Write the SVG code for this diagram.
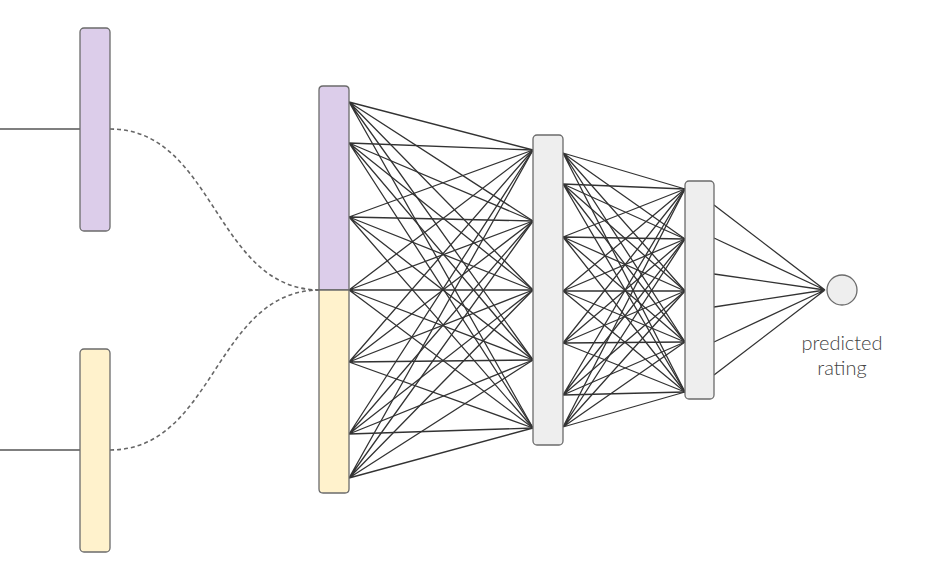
<svg xmlns="http://www.w3.org/2000/svg" width="934" height="579" viewBox="0 0 934 579">
<style>
.bar{stroke:#6b6b6b;stroke-width:1.3}
.purple{fill:#dccdea}
.yellow{fill:#fff2cc}
.gray{fill:#eeeeee}
.edge{stroke:#333;stroke-width:1.3;fill:none}
.solid{stroke:#555;stroke-width:1.3;fill:none}
.dash{stroke:#666;stroke-width:1.6;fill:none;stroke-dasharray:4 3}
.lbl{font-family:Lato,"Open Sans","Liberation Sans",sans-serif;font-size:20px;fill:#444;font-weight:300}
</style>
<rect width="934" height="579" fill="#fff"/>
<g id="connectors">
<path class="solid" d="M0 129H80M0 450H80"/>
<path class="dash" d="M110 129C215 129 215 290 320 290"/>
<path class="dash" d="M110 450C215 450 215 290 320 290"/>
<g id="layer1-edges" class="edge">
<path d="M349 102L533 150M349 102L533 221M349 102L533 290M349 102L533 360M349 102L533 428"/>
<path d="M349 143L533 150M349 143L533 221M349 143L533 290M349 143L533 360M349 143L533 428"/>
<path d="M349 217L533 150M349 217L533 221M349 217L533 290M349 217L533 360M349 217L533 428"/>
<path d="M349 290L533 150M349 290L533 221M349 290L533 290M349 290L533 360M349 290L533 428"/>
<path d="M349 362L533 150M349 362L533 221M349 362L533 290M349 362L533 360M349 362L533 428"/>
<path d="M349 434L533 150M349 434L533 221M349 434L533 290M349 434L533 360M349 434L533 428"/>
<path d="M349 478L533 150M349 478L533 221M349 478L533 290M349 478L533 360M349 478L533 428"/>
</g>
<g id="layer2-edges" class="edge">
<path d="M563 153L685 189M563 153L685 239M563 153L685 291M563 153L685 342M563 153L685 392"/>
<path d="M563 184L685 189M563 184L685 239M563 184L685 291M563 184L685 342M563 184L685 392"/>
<path d="M563 237L685 189M563 237L685 239M563 237L685 291M563 237L685 342M563 237L685 392"/>
<path d="M563 291L685 189M563 291L685 239M563 291L685 291M563 291L685 342M563 291L685 392"/>
<path d="M563 343L685 189M563 343L685 239M563 343L685 291M563 343L685 342M563 343L685 392"/>
<path d="M563 395L685 189M563 395L685 239M563 395L685 291M563 395L685 342M563 395L685 392"/>
<path d="M563 427L685 189M563 427L685 239M563 427L685 291M563 427L685 342M563 427L685 392"/>
</g>
<g id="output-edges" class="edge">
<path d="M714 205L825 290M714 238L825 290M714 274L825 290M714 307L825 290M714 342L825 290M714 375L825 290"/>
</g>
</g>
<g id="user-embedding"><rect class="bar purple" x="80" y="28" width="30" height="203" rx="4"/></g>
<g id="item-embedding"><rect class="bar yellow" x="80" y="349" width="30" height="203" rx="4"/></g>
<g id="input-layer">
<path class="bar purple" d="M349 290V90Q349 86 345 86H323Q319 86 319 90V290Z"/>
<path class="bar yellow" d="M349 290V489Q349 493 345 493H323Q319 493 319 489V290Z"/>
</g>
<g id="hidden-1"><rect class="bar gray" x="533" y="135" width="30" height="310" rx="4"/></g>
<g id="hidden-2"><rect class="bar gray" x="685" y="181" width="29" height="218" rx="4"/></g>
<g id="output">
<circle class="bar gray" cx="842" cy="290" r="15"/>
<text class="lbl" x="842" y="350" text-anchor="middle">predicted</text>
<text class="lbl" x="842" y="375" text-anchor="middle">rating</text>
</g>
</svg>
